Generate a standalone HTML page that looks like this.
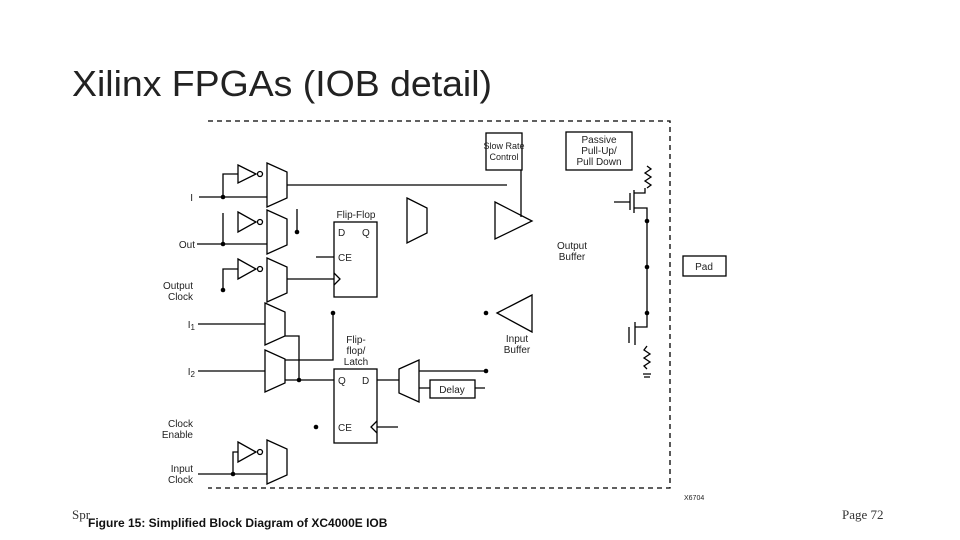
<!DOCTYPE html>
<html><head><meta charset="utf-8"><style>
html,body{margin:0;padding:0;background:#fff;}
body{width:960px;height:540px;overflow:hidden;position:relative;}
svg{position:absolute;left:0;top:0;}
</style></head><body>
<svg width="960" height="540" viewBox="0 0 960 540" xmlns="http://www.w3.org/2000/svg">
<text x="72" y="96" font-family="Liberation Sans, sans-serif" font-size="36" fill="#222" textLength="420" lengthAdjust="spacingAndGlyphs">Xilinx FPGAs (IOB detail)</text>
<g stroke="#000" stroke-width="1.3" fill="none">
<path d="M208 121 H670 V488 H208" stroke-dasharray="5,4"/>
<path d="M238 165 L256 174 L238 183 Z"/><circle cx="260" cy="174" r="2.5"/>
<path d="M267 163 L287 172 L287 198 L267 207 Z"/>
<path d="M238 212 L256 222 L238 232 Z"/><circle cx="260" cy="222" r="2.5"/>
<path d="M267 210 L287 219 L287 245 L267 254 Z"/>
<path d="M238 259 L256 269 L238 279 Z"/><circle cx="260" cy="269" r="2.5"/>
<path d="M267 258 L287 267 L287 293 L267 302 Z"/>
<path d="M287 185 H507"/>
<path d="M199 197 H267 M223 197 V174 H238"/>
<path d="M197 244 H267 M223 244 V213"/>
<path d="M297 209 V232"/>
<path d="M223 290 V269 H238"/>
<path d="M287 279 H334"/>
<rect x="334" y="222" width="43" height="75"/>
<path d="M316 257 H334"/>
<path d="M334 273 L340 279 L334 285"/>
<path d="M407 198 L427 208 L427 233 L407 243 Z"/>
<path d="M495 202 L532 221 L495 239 Z"/>
<rect x="486" y="133" width="36" height="37"/>
<path d="M521 170 V217"/>
<rect x="566" y="132" width="66" height="38"/>
<rect x="683" y="256" width="43" height="20"/>
<path d="M614 202 H630 M630 193 V210 M634 190 V213 M634 193 H645 V188 M634 208 H647 V327 H635 M635 322 V345 M629 327 V343"/>
<path d="M647 188 l4 -3 l-6 -4 l6 -4 l-6 -4 l6 -4 l-4 -3"/>
<path d="M647 346 l-3 4 l6 4 l-6 4 l6 4 l-6 4 l3 3 M643 374 H651 M644 377 H650"/>
<path d="M497 313 L532 295 L532 332 Z"/>
<path d="M265 303 L285 312 L285 336 L265 345 Z"/>
<path d="M265 350 L285 359 L285 383 L265 392 Z"/>
<path d="M198 324 H265 M198 371 H265"/>
<path d="M285 336 H299 V380 M285 360 H333 V313 M285 380 H334"/>
<rect x="334" y="369" width="43" height="74"/>
<path d="M377 421 L371 427 L377 433 M377 427 H398"/>
<path d="M377 380 H399"/>
<path d="M399 369 L419 360 L419 402 L399 393 Z"/>
<path d="M419 371 H486 M419 388 H430 M475 388 H485"/>
<rect x="430" y="380" width="45" height="18"/>
<path d="M238 442 L256 452 L238 462 Z"/><circle cx="260" cy="452" r="2.5"/>
<path d="M267 440 L287 449 L287 475 L267 484 Z"/>
<path d="M198 474 H267 M233 474 V452 H238"/>
</g>
<g fill="#000">
<circle cx="223" cy="197" r="2.3"/><circle cx="223" cy="244" r="2.3"/><circle cx="297" cy="232" r="2.3"/><circle cx="223" cy="290" r="2.3"/>
<circle cx="647" cy="221" r="2.3"/><circle cx="647" cy="267" r="2.3"/><circle cx="647" cy="313" r="2.3"/>
<circle cx="486" cy="313" r="2.3"/><circle cx="333" cy="313" r="2.3"/><circle cx="299" cy="380" r="2.3"/>
<circle cx="486" cy="371" r="2.3"/><circle cx="316" cy="427" r="2.3"/><circle cx="233" cy="474" r="2.3"/>
</g>
<g font-family="Liberation Sans, sans-serif" font-size="10" fill="#222">
<text x="193" y="201" text-anchor="end">I</text>
<text x="195" y="248" text-anchor="end">Out</text>
<text x="193" y="289" text-anchor="end">Output</text>
<text x="193" y="300" text-anchor="end">Clock</text>
<text x="195" y="328" text-anchor="end">I<tspan font-size="8" dy="2">1</tspan></text>
<text x="195" y="375" text-anchor="end">I<tspan font-size="8" dy="2">2</tspan></text>
<text x="193" y="427" text-anchor="end">Clock</text>
<text x="193" y="438" text-anchor="end">Enable</text>
<text x="193" y="472" text-anchor="end">Input</text>
<text x="193" y="483" text-anchor="end">Clock</text>
<text x="356" y="218" text-anchor="middle">Flip-Flop</text>
<text x="338" y="236">D</text><text x="362" y="236">Q</text>
<text x="338" y="261">CE</text>
<text x="356" y="343" text-anchor="middle">Flip-</text>
<text x="356" y="354" text-anchor="middle">flop/</text>
<text x="356" y="365" text-anchor="middle">Latch</text>
<text x="338" y="384">Q</text><text x="362" y="384">D</text>
<text x="338" y="431">CE</text>
<text x="452" y="393" text-anchor="middle">Delay</text>
<text x="504" y="149" text-anchor="middle" font-size="9">Slow Rate</text>
<text x="504" y="160" text-anchor="middle" font-size="9">Control</text>
<text x="599" y="143" text-anchor="middle">Passive</text>
<text x="599" y="154" text-anchor="middle">Pull-Up/</text>
<text x="599" y="165" text-anchor="middle">Pull Down</text>
<text x="572" y="249" text-anchor="middle">Output</text>
<text x="572" y="260" text-anchor="middle">Buffer</text>
<text x="517" y="342" text-anchor="middle">Input</text>
<text x="517" y="353" text-anchor="middle">Buffer</text>
<text x="704" y="270" text-anchor="middle">Pad</text>
<text x="684" y="500" font-size="7">X6704</text>
</g>
<text x="72" y="519" font-family="Liberation Serif, serif" font-size="13" fill="#333">Spr</text>
<text x="88" y="527" font-family="Liberation Sans, sans-serif" font-size="12" font-weight="bold" fill="#111">Figure 15:   Simplified Block Diagram of XC4000E IOB</text>
<text x="842" y="519" font-family="Liberation Serif, serif" font-size="13" fill="#333">Page 72</text>
</svg>
</body></html>
